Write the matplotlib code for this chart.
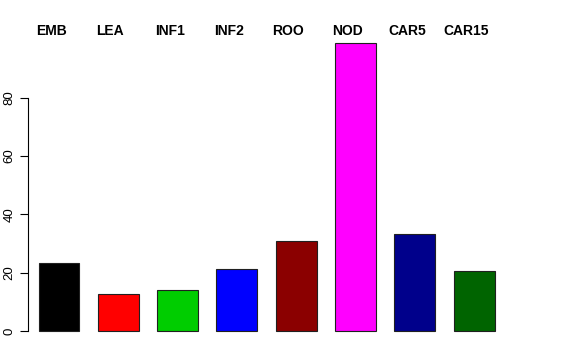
import matplotlib
matplotlib.use("Agg")
import matplotlib.pyplot as plt
import matplotlib.transforms as mtransforms
import numpy as np

plt.rcParams["font.family"] = ["Liberation Sans", "DejaVu Sans"]

tissues = ["EMB", "LEA", "INF1", "INF2", "ROO", "NOD", "CAR5", "CAR15"]
values = [23.3, 12.7, 14.1, 21.2, 31.0, 98.8, 33.4, 20.5]
colors = ["#000000", "#FF0000", "#00CD00", "#0000FF",
          "#8B0000", "#FF00FF", "#00008B", "#006400"]
yticks = [0, 20, 40, 60, 80]

fig = plt.figure(figsize=(5.76, 3.6), dpi=100)
ax = fig.add_axes([28 / 576, 17.5 / 360, (504 - 28) / 576, 311 / 360])

x = np.arange(len(tissues))
ax.bar(x, values, width=0.69, color=colors, edgecolor="#202020", linewidth=0.8)

ax.set_xlim(-0.523, 7.504)
ax.set_ylim(-3.95, 102.75)

for s in ["top", "right", "bottom"]:
    ax.spines[s].set_visible(False)
ax.spines["left"].set_bounds(0, 80)
ax.spines["left"].set_linewidth(0.8)
ax.set_xticks([])
ax.set_yticks(yticks)
ax.set_yticklabels([str(v) for v in yticks], rotation=90, va="center", fontsize=9.5)
ax.tick_params(axis="y", length=6, width=0.8, pad=3)

# labels sit a little left of the bar centres
trans = mtransforms.blended_transform_factory(ax.transData, ax.transAxes)
for xi, name in zip(x, tissues):
    ax.text(xi - 0.135, 1.003, name, transform=trans, ha="center", va="center",
            fontsize=10, fontweight="bold", clip_on=False)

fig.savefig("out.png", dpi=100)
